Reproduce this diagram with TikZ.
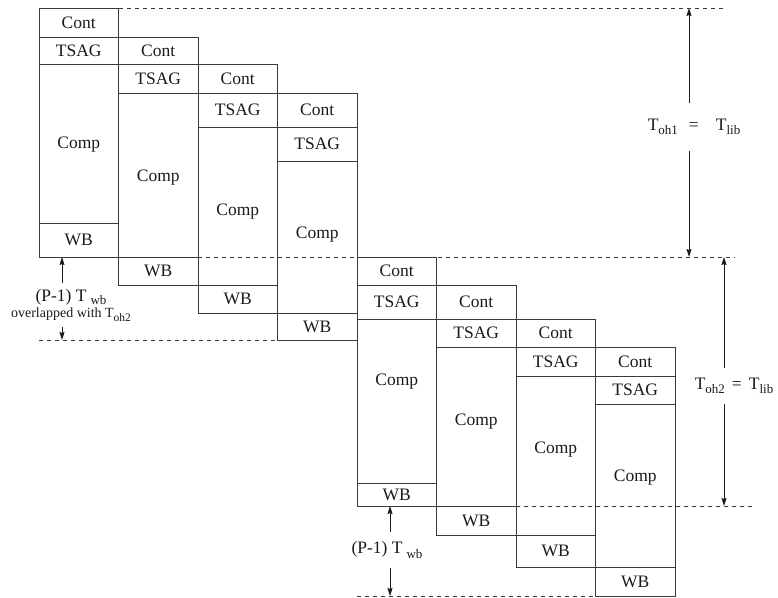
\documentclass[tikz,border=0pt]{standalone}
\usepackage{fontspec}
\setmainfont{Liberation Serif}
\usetikzlibrary{arrows.meta}
\definecolor{ink}{HTML}{1A1A1A}
\definecolor{rule}{HTML}{3A3A3A}
\newcommand{\lowsub}[2][4pt]{\raisebox{-#1}{\fontsize{13}{13}\selectfont #2}}
\tikzset{
  lbl/.style={font=\fontsize{17.5}{19}\selectfont, text=ink, inner xsep=0pt},
  cell/.style={rectangle, draw=rule, line width=0.9pt, anchor=north west,
               minimum width=79.5pt, inner sep=0pt, outer sep=0pt, lbl},
  guide/.style={draw=rule, line width=0.8pt, dash pattern=on 4pt off 4pt},
  dimarrow/.style={-{Stealth[length=8pt,width=5pt,inset=1pt]}, draw=ink, line width=0.8pt},
}
\begin{document}
\begin{tikzpicture}[x=1pt, y=-1pt]
\useasboundingbox (0,0) rectangle (778,597);

% two groups of four staggered stages: Cont / TSAG / Comp / WB
\foreach \n/\x/\ta/\tb/\tc/\td/\te/\cy in {
  1/39/8/37/64/223/257/145,
  2/118.5/37/64/93/257/285/178,
  3/198/64/93/127/285/313/212,
  4/277.5/93/127/161/313/340/235,
  5/357/257/285/319/483/506/382,
  6/436.5/285/319/347/506/535/422,
  7/516/319/347/376/535/567/450,
  8/595.5/347/376/404/567/596/478}{
  \pgfmathsetmacro\ha{\tb-\ta}
  \pgfmathsetmacro\hb{\tc-\tb}
  \pgfmathsetmacro\hc{\td-\tc}
  \pgfmathsetmacro\hd{\te-\td}
  \node[cell, minimum height=\ha pt] (cont\n) at (\x,\ta) {Cont};
  \node[cell, minimum height=\hb pt] (tsag\n) at (\x,\tb) {TSAG};
  \node[cell, minimum height=\hc pt] (comp\n) at (\x,\tc) {};
  \node[lbl] (compl\n) at (\x+39.75,\cy) {Comp};
  \node[cell, minimum height=\hd pt] (wb\n) at (\x,\td) {WB};
}

% dashed guides
\coordinate (g1) at (723,8);
\coordinate (g2) at (735,257);
\coordinate (g4) at (752,506);
\draw[guide] (cont1.north east) -- (g1);
\draw[guide] (wb2.north east) -- (g2);
\draw[guide] (wb1.south west |- wb4.south) -- (wb4.south west);
\draw[guide] (wb6.north east) -- (g4);
\draw[guide] (wb5.south west |- wb8.south) -- (wb8.south west);

% labels
\node[lbl, inner ysep=16pt] (toh1) at (694,127) {T\lowsub{oh1}\hspace{11pt}=\hspace{17pt}T\lowsub{lib}};
\node[lbl, inner ysep=10.5pt] (toh2) at (734,386) {T\lowsub{oh2}\hspace{7pt}=\hspace{7pt}T\lowsub{lib}};
\node[lbl, inner ysep=6pt, align=center] (pwb1) at (71,305) {(P-1) T\hspace{4pt}\lowsub[3.5pt]{wb}\\[-3pt]
  {\fontsize{14}{15}\selectfont overlapped with T\raisebox{-4pt}{\fontsize{11.5}{12}\selectfont oh2}}};
\node[lbl, inner ysep=9pt] (pwb2) at (387,550) {(P-1) T\hspace{4pt}\lowsub[5pt]{wb}};

% dimension arrows
\coordinate (a1t) at (689,8);
\coordinate (a1b) at (689,257);
\coordinate (a2t) at (724,257);
\coordinate (a2b) at (724,506);
\coordinate (a3t) at (62,257);
\coordinate (a3b) at (62,340);
\coordinate (a4t) at (390,506);
\coordinate (a4b) at (390,596);
\draw[dimarrow] (toh1.north -| a1t) -- (a1t);
\draw[dimarrow] (toh1.south -| a1t) -- (a1b);
\draw[dimarrow] (toh2.north -| a2t) -- (a2t);
\draw[dimarrow] (toh2.south -| a2t) -- (a2b);
\draw[dimarrow] (pwb1.north -| a3t) -- (a3t);
\draw[dimarrow] (pwb1.south -| a3t) -- (a3b);
\draw[dimarrow] (pwb2.north -| a4t) -- (a4t);
\draw[dimarrow] (pwb2.south -| a4t) -- (a4b);
\end{tikzpicture}
\end{document}
